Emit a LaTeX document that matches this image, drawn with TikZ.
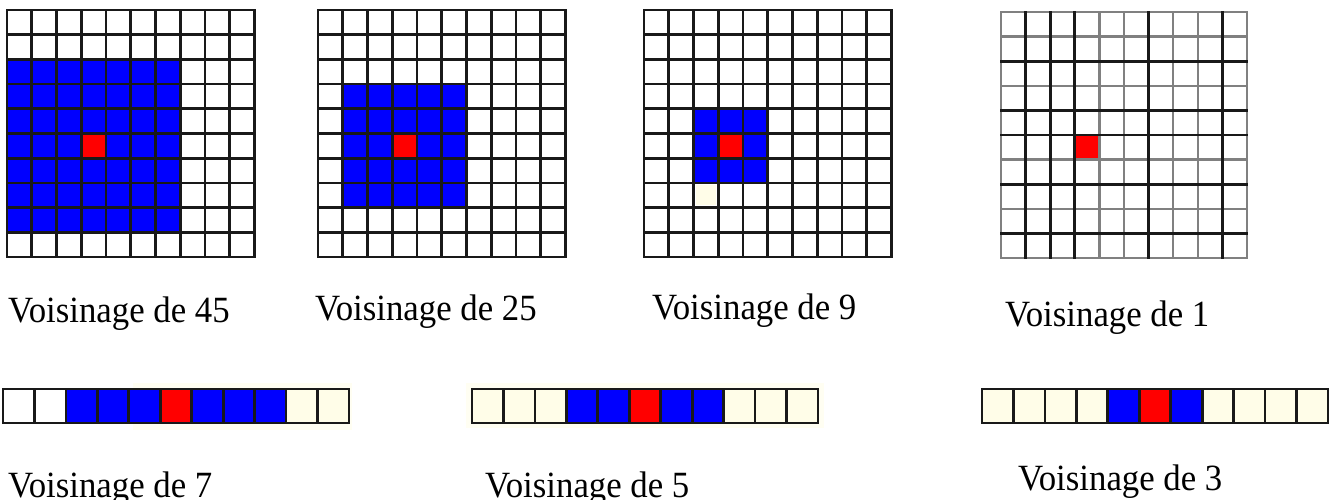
\documentclass[tikz,border=0pt]{standalone}
\usepackage{fontspec}
\setmainfont{Liberation Serif}
\usetikzlibrary{positioning}

\definecolor{bleu}{RGB}{0,0,255}
\definecolor{rouge}{RGB}{255,0,0}
\definecolor{creme}{RGB}{255,253,232}
\definecolor{fond}{RGB}{255,254,242}

\begin{document}
\begin{tikzpicture}[x=1pt,y=-1pt,line cap=rect,
	trait/.style={line width=2.7pt,black!90},
	traitgris/.style={line width=2.2pt,black!50},
	legende/.style={anchor=base west,inner sep=0pt,xscale=0.94,font=\fontsize{37}{40}\selectfont}]
\useasboundingbox (0,0) rectangle (1336,500);

% grilles 10x10
\foreach \gx/\bc/\br/\bn in {7/0/2/7, 318/1/3/5, 644/2/4/3} {
  \begin{scope}[shift={(\gx,10)},x=24.75pt,y=-24.7pt]
    \fill[bleu]	(\bc,\br) rectangle ++(\bn,\bn);
    \fill[rouge]	(3,5) rectangle (4,6);
    \foreach \i in {0,...,10} {
      \draw[trait] (\i,0) -- (\i,10);
      \draw[trait] (0,\i) -- (10,\i);
    }
  \end{scope}
}
\fill[creme] (644+2*24.75+2,10+7*24.7+2) rectangle ++(20.5,20.5);

\begin{scope}[shift={(1001,12)},x=24.6pt,y=-24.6pt]
  \fill[rouge]	(3,5) rectangle (4,6);
  \foreach \i in {0,...,10} {
    \draw[traitgris] (\i,0) -- (\i,10);
    \draw[traitgris] (0,\i) -- (10,\i);
  }
  \foreach \i in {1,2,3,6,9} \draw[trait] (\i,0) -- (\i,10);
  \foreach \i in {2,4,5,7,9} \draw[trait] (0,\i) -- (10,\i);
\end{scope}

% bandes 1x11
\fill[fond] (133,383) rectangle (352,430);
\fill[fond] (466,383) rectangle (824,428);
\foreach \sx/\cd/\bd/\bf in {3/9/2/9, 472/0/3/8, 982/0/4/7} {
  \begin{scope}[shift={(\sx,389)},x=31.45pt,y=-34pt]
    \fill[creme]	(\cd,0) rectangle (11,1);
    \fill[bleu]	(\bd,0) rectangle (\bf,1);
    \fill[rouge]	(5,0) rectangle (6,1);
    \foreach \i in {0,...,11} \draw[trait] (\i,0) -- (\i,1);
    \draw[trait] (0,0) -- (11,0) (0,1) -- (11,1);
  \end{scope}
}

\node[legende]	(v_45)	at (8,322)	{Voisinage de 45};
\node[legende]	(v_25)	at (315,320)	{Voisinage de 25};
\node[legende]	(v_9)	at (652,319)	{Voisinage de 9};
\node[legende]	(v_1)	at (1005,326)	{Voisinage de 1};
\node[legende]	(v_7)	at (8,497)	{Voisinage de 7};
\node[legende]	(v_5)	at (485,497)	{Voisinage de 5};
\node[legende]	(v_3)	at (1018,490)	{Voisinage de 3};
\end{tikzpicture}
\end{document}
